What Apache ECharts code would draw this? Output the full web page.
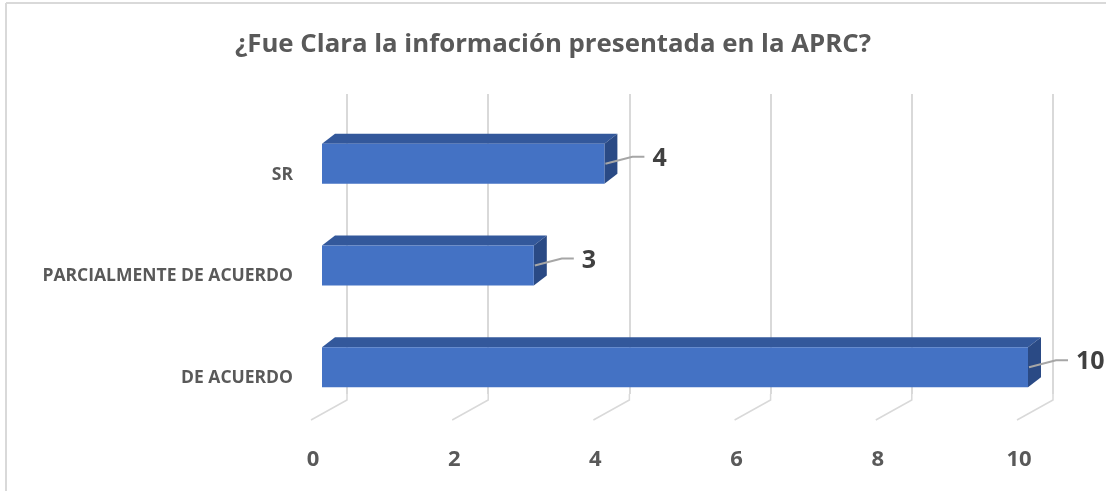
<!DOCTYPE html>
<html>
<head>
<meta charset="utf-8">
<script src="https://cdn.jsdelivr.net/npm/echarts@6/dist/echarts.min.js"></script>
<style>
  html, body { margin: 0; padding: 0; background: #fff; }
  #main { width: 1106px; height: 491px; }
</style>
</head>
<body>
<div id="main"></div>
<script>
var myChart = echarts.init(document.getElementById('main'));

// data
var categories = ['DE ACUERDO', 'PARCIALMENTE DE ACUERDO', 'SR'];
var values = [10, 3, 4];
var xTicks = [0, 2, 4, 6, 8, 10];

var DX = 13, DY = -10;   // bar depth
var FLOOR_DX = -36, FLOOR_DY = 26;

function renderBar(params, api) {
  var idx = api.value(0);
  var val = api.value(1);
  var p0 = api.coord([0, idx]);
  var p1 = api.coord([val, idx]);
  var h = 40;
  var x0 = p0[0], x1 = p1[0];
  var yt = p0[1] - h / 2, yb = p0[1] + h / 2;
  var yc = p0[1];
  return {
    type: 'group',
    children: [
      { type: 'polygon', shape: { points: [[x0, yt], [x0 + DX, yt + DY], [x1 + DX, yt + DY], [x1, yt]] },
        style: { fill: '#33589b' } },
      { type: 'polygon', shape: { points: [[x1, yt], [x1 + DX, yt + DY], [x1 + DX, yb + DY], [x1, yb]] },
        style: { fill: '#2a4a85' } },
      { type: 'rect', shape: { x: x0, y: yt, width: x1 - x0, height: h },
        style: { fill: '#4472c4' } },
      { type: 'polyline', shape: { points: [[x1 + 1, yc], [x1 + 28, yc - 7], [x1 + 40, yc - 7]] },
        style: { stroke: '#a6a6a6', lineWidth: 2, fill: null } },
      { type: 'text', x: x1 + 48, y: yc - 5,
        style: { text: String(val), fill: '#404040', font: 'bold 25px "Open Sans", sans-serif',
                 align: 'left', verticalAlign: 'middle' } }
    ]
  };
}

function renderFloor(params, api) {
  var v = api.value(0);
  var p = api.coord([v, 0]);
  var bottom = params.coordSys.y + params.coordSys.height;
  return {
    type: 'polyline',
    shape: { points: [[p[0], bottom], [p[0], bottom + 6], [p[0] + FLOOR_DX, bottom + FLOOR_DY]] },
    style: { stroke: '#d9d9d9', lineWidth: 1.5, fill: null }
  };
}

option = {
  backgroundColor: '#fff',
  animation: false,
  title: {
    text: '¿Fue Clara la información presentada en la APRC?',
    left: 'center',
    top: 27,
    textStyle: { color: '#595959', fontSize: 25.8, fontWeight: 'bold', fontFamily: '"Open Sans", sans-serif' }
  },
  graphic: [
    { type: 'line', shape: { x1: 6, y1: 3, x2: 1106, y2: 3 }, style: { stroke: '#d9d9d9', lineWidth: 2 } },
    { type: 'line', shape: { x1: 6, y1: 3, x2: 6, y2: 491 }, style: { stroke: '#d9d9d9', lineWidth: 2 } }
  ],
  grid: [
    { left: 322, width: 706, top: 113, height: 305 },
    { left: 347, width: 706, top: 94, height: 300 }
  ],
  xAxis: [
    {
      gridIndex: 0, type: 'value', min: 0, max: 10, interval: 2,
      axisLine: { show: false }, axisTick: { show: false }, splitLine: { show: false },
      axisLabel: { margin: 31, padding: [0, 18, 0, 0], color: '#595959', fontSize: 22, fontWeight: 'bold',
                   fontFamily: '"Open Sans", sans-serif' }
    },
    {
      gridIndex: 1, type: 'value', min: 0, max: 10, interval: 2,
      axisLine: { show: false }, axisTick: { show: false }, axisLabel: { show: false },
      splitLine: { show: true, lineStyle: { color: '#d9d9d9', width: 2 } }
    }
  ],
  yAxis: [
    {
      gridIndex: 0, type: 'category', data: categories,
      axisLine: { show: false }, axisTick: { show: false },
      axisLabel: { margin: 29, verticalAlign: 'top', lineHeight: 22, color: '#595959', fontSize: 17.5, fontWeight: 'bold',
                   fontFamily: '"Open Sans", sans-serif' }
    },
    {
      gridIndex: 1, type: 'value', min: 0, max: 1, show: false
    }
  ],
  series: [
    {
      type: 'custom', xAxisIndex: 1, yAxisIndex: 1,
      renderItem: renderFloor,
      data: xTicks.map(function (t) { return [t]; }),
      silent: true
    },
    {
      type: 'custom', xAxisIndex: 0, yAxisIndex: 0,
      renderItem: renderBar,
      encode: { x: 1, y: 0 },
      data: values.map(function (v, i) { return [i, v]; }),
      z: 5
    }
  ]
};
myChart.setOption(option);
</script>
</body>
</html>
